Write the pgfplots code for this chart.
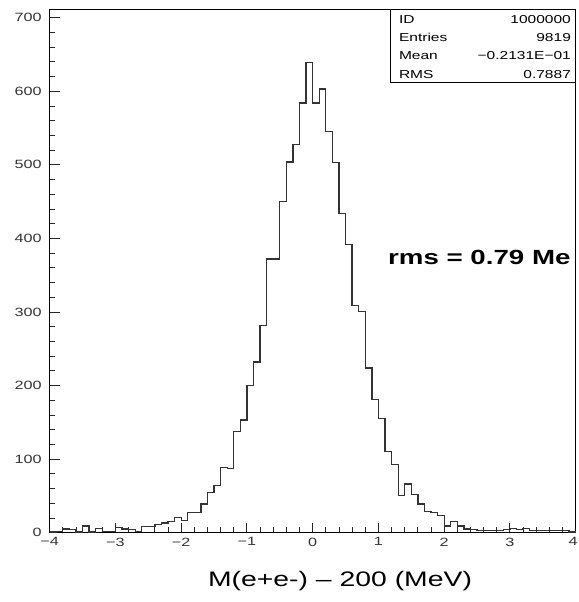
\documentclass[border=0pt]{standalone}
\usepackage{fontspec}
\setmainfont{Liberation Sans}
\newfontfamily\wide[FakeStretch=1.35]{Liberation Sans}
\usepackage{pgfplots}
\usepackage{pgfplotstable}
\pgfplotsset{compat=1.18}
\pgfplotstableread{
x y
-4.0 1
-3.9 2
-3.8 5
-3.7 4
-3.6 1
-3.5 9
-3.4 1
-3.3 6
-3.2 2
-3.1 2
-3.0 7
-2.9 5
-2.8 4
-2.7 2
-2.6 8
-2.5 8
-2.4 11
-2.3 13
-2.2 15
-2.1 21
-2.0 17
-1.9 27
-1.8 27
-1.7 39
-1.6 55
-1.5 64
-1.4 89
-1.3 87
-1.2 138
-1.1 153
-1.0 200
-0.9 232
-0.8 282
-0.7 372
-0.6 372
-0.5 450
-0.4 504
-0.3 528
-0.2 584
-0.1 639
0.0 584
0.1 603
0.2 545
0.3 503
0.4 434
0.5 392
0.6 309
0.7 301
0.8 224
0.9 181
1.0 155
1.1 110
1.2 93
1.3 51
1.4 66
1.5 52
1.6 39
1.7 29
1.8 27
1.9 23
2.0 9
2.1 15
2.2 9
2.3 5
2.4 4
2.5 3
2.6 3
2.7 3
2.8 3
2.9 4
3.0 6
3.1 4
3.2 6
3.3 3
3.4 3
3.5 3
3.6 3
3.7 3
3.8 3
3.9 1
4.0 1
}\histdata
\begin{document}
\begin{tikzpicture}
\path[use as bounding box] (-49.7pt,-69.3pt) rectangle (528.3pt,532.7pt);
\begin{axis}[
  at={(0,0)}, anchor=south west,
  scale only axis, width=526pt, height=523.1pt,
  xmin=-4, xmax=4, ymin=0, ymax=711,
  axis line style={line width=0.9pt, black},
  tick style={line width=0.9pt, black!85},
  tick align=inside,
  xtick pos=bottom, ytick pos=left,
  xtick={-4,-3,...,4},
  xticklabels={−4,−3,−2,−1,0,1,2,3,\makebox[0pt][r]{4\hspace{-2pt}}},
  ytick={0,100,...,700},
  yticklabels={0,100,200,300,400,500,600,700},
  minor x tick num=4, minor y tick num=4,
  major tick length=10pt, minor tick length=5.5pt,
  ticklabel style={font=\wide\fontsize{12}{14}\selectfont, text=black!80},
  yticklabel style={xshift=-4.5pt},
  xticklabel style={yshift=-1.5pt},
  clip=false,
]
\addplot[const plot mark left, line width=1.3pt, black!80] table[x=x,y=y] {\histdata};
% statistics box
\draw[line width=0.9pt, black] (axis cs:1.19,711) -- (axis cs:1.19,612) -- (axis cs:4,612);
\begin{scope}[font=\wide\fontsize{11.5}{13}\selectfont]
\node[anchor=west, inner sep=0pt] at (axis cs:1.31,698) {ID};
\node[anchor=east, inner sep=0pt] at (axis cs:3.93,698) {1000000};
\node[anchor=west, inner sep=0pt] at (axis cs:1.31,673) {Entries};
\node[anchor=east, inner sep=0pt] at (axis cs:3.93,673) {9819};
\node[anchor=west, inner sep=0pt] at (axis cs:1.31,648) {Mean};
\node[anchor=east, inner sep=0pt] at (axis cs:3.93,648) {−0.2131E−01};
\node[anchor=west, inner sep=0pt] at (axis cs:1.31,623) {RMS};
\node[anchor=east, inner sep=0pt] at (axis cs:3.93,623) {0.7887};
\end{scope}
\node[anchor=base west, inner sep=0pt, font=\wide\bfseries\fontsize{20.5}{24}\selectfont] at (axis cs:1.145,364) {rms = 0.79 Me};
\node[anchor=base, inner sep=0pt, font=\wide\fontsize{21}{25}\selectfont] at ([yshift=-54pt]rel axis cs:0.552,0) {M(e+e-) – 200 (MeV)};
\end{axis}
\end{tikzpicture}
\end{document}
